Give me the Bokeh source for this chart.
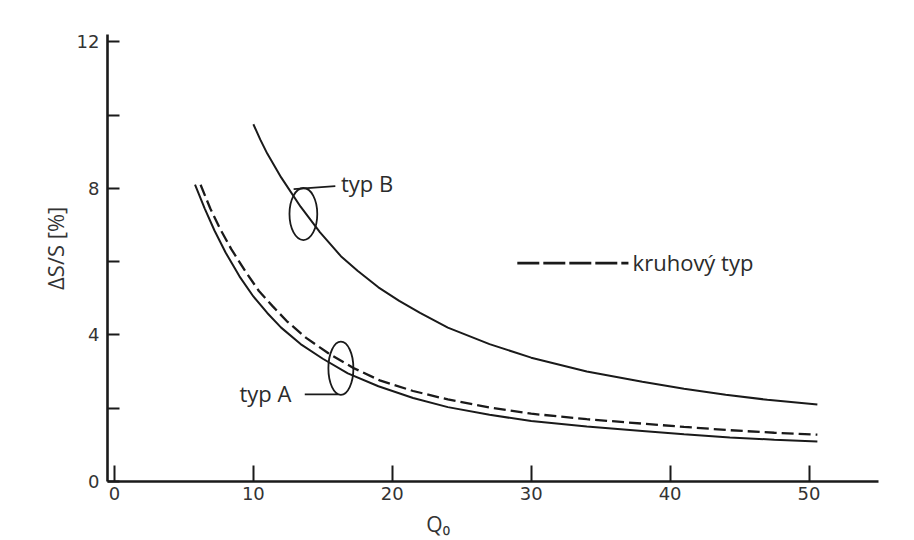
from bokeh.plotting import figure
from bokeh.models import FixedTicker, Range1d, Label, LinearAxis
from bokeh.embed import file_html
from bokeh.resources import INLINE
import math

# ---- data ----
typB_x = [10, 10.5, 11, 12, 13.4, 14.8, 16.3, 17.5, 19, 20.5, 22, 24, 27, 30, 34, 38, 41, 44, 47, 50.6]
typB_y = [9.75, 9.33, 8.95, 8.3, 7.5, 6.8, 6.15, 5.75, 5.3, 4.93, 4.6, 4.2, 3.75, 3.38, 3.0, 2.72, 2.53, 2.37, 2.23, 2.1]

typA_x = [5.8, 6.5, 7.2, 8, 9, 10, 11, 12, 13.4, 15, 16.8, 19, 21.5, 24, 27, 30, 34, 38, 41, 44.3, 47.5, 50.6]
typA_y = [8.1, 7.45, 6.85, 6.25, 5.6, 5.05, 4.6, 4.2, 3.75, 3.35, 2.95, 2.6, 2.28, 2.03, 1.82, 1.65, 1.5, 1.38, 1.29, 1.2, 1.14, 1.09]

kruh_x = [6.2, 6.9, 7.6, 8.4, 9.4, 10.4, 11.4, 12.4, 13.8, 15.4, 17.2, 19.1, 21.5, 24, 27, 30, 34, 38, 41, 44.3, 47.5, 50.6]
kruh_y = [8.1, 7.45, 6.9, 6.35, 5.75, 5.2, 4.78, 4.38, 3.92, 3.5, 3.1, 2.76, 2.47, 2.24, 2.02, 1.85, 1.7, 1.58, 1.49, 1.4, 1.33, 1.28]

x_ticks = [0, 10, 20, 30, 40, 50]
y_ticks = [0, 4, 8, 12]
y_minor = [2, 6, 10]

x_title = "Q₀"
y_title = "ΔS/S [%]"

INK = "#1a1a1a"
TXT = "#2b2b2b"
ANN_FONT = "Open Sans"
TICK_FONT = "DejaVu Sans"
ANN_SIZE = "22px"

p = figure(width=914, height=540, output_backend="svg", toolbar_location=None,
           x_range=Range1d(-0.5, 55), y_range=Range1d(0, 12.2),
           min_border_left=107, min_border_right=36, min_border_top=34, min_border_bottom=59)

p.background_fill_color = "white"
p.border_fill_color = "white"
p.outline_line_color = None
p.xgrid.visible = False
p.ygrid.visible = False

# curves
p.line(typB_x, typB_y, line_color=INK, line_width=2)
p.line(typA_x, typA_y, line_color=INK, line_width=2)
p.line(kruh_x, kruh_y, line_color=INK, line_width=2.3, line_dash="12 5")

# legend sample for dashed curve
p.line([29.0, 37.0], [5.96, 5.96], line_color=INK, line_width=2.6, line_dash="22 4")
p.add_layout(Label(x=37.3, y=6.0, text="kruhový typ", text_font=ANN_FONT,
                   text_font_size=ANN_SIZE, text_color=TXT, text_baseline="middle",
                   text_align="left"))

# typ B annotation: loop + leader
p.ellipse(x=[13.6], y=[7.3], width=[2.0], height=[1.42], fill_alpha=0,
          line_color=INK, line_width=1.8)
p.line([12.9, 15.9], [7.98, 8.06], line_color=INK, line_width=1.8)
p.add_layout(Label(x=16.3, y=8.16, text="typ B", text_font=ANN_FONT,
                   text_font_size=ANN_SIZE, text_color=TXT, text_baseline="middle",
                   text_align="left"))

# typ A annotation: loop + leader
p.ellipse(x=[16.3], y=[3.09], width=[1.8], height=[1.45], fill_alpha=0,
          line_color=INK, line_width=1.8)
p.line([13.7, 16.1], [2.38, 2.38], line_color=INK, line_width=1.8)
p.add_layout(Label(x=9.0, y=2.42, text="typ A", text_font=ANN_FONT,
                   text_font_size=ANN_SIZE, text_color=TXT, text_baseline="middle",
                   text_align="left"))

# axes
xa = p.xaxis[0]
xa.ticker = FixedTicker(ticks=x_ticks)
xa.axis_line_width = 2.6
xa.axis_line_color = INK
xa.major_tick_in = 16
xa.major_tick_out = 0
xa.major_tick_line_width = 2
xa.major_tick_line_color = INK
xa.minor_tick_line_color = None
xa.major_label_text_font = TICK_FONT
xa.major_label_text_font_size = "18px"
xa.major_label_text_color = "#333333"
xa.major_label_standoff = 5

ya = p.yaxis[0]
ya.ticker = FixedTicker(ticks=y_ticks, minor_ticks=y_minor)
ya.axis_line_width = 2.6
ya.axis_line_color = INK
ya.major_tick_in = 12
ya.major_tick_out = 0
ya.minor_tick_in = 12
ya.minor_tick_out = 0
ya.major_tick_line_width = 2
ya.minor_tick_line_width = 2
ya.major_tick_line_color = INK
ya.minor_tick_line_color = INK
ya.major_label_text_font = TICK_FONT
ya.major_label_text_font_size = "18px"
ya.major_label_text_color = "#333333"
ya.major_label_standoff = 8

# axis titles: placed as single labelled ticks on bare axes so they sit where the reference has them
x_title_pos = 23.3
y_title_pos = 7.5
xt = LinearAxis(ticker=FixedTicker(ticks=[x_title_pos]),
                major_label_overrides={x_title_pos: x_title},
                axis_line_color=None, major_tick_line_color=None, minor_tick_line_color=None,
                major_label_text_font=ANN_FONT, major_label_text_font_size="21px",
                major_label_text_color="#333333", major_label_standoff=1)
p.add_layout(xt, "below")
yt = LinearAxis(ticker=FixedTicker(ticks=[y_title_pos]),
                major_label_overrides={y_title_pos: y_title},
                major_label_orientation=math.pi / 2,
                axis_line_color=None, major_tick_line_color=None, minor_tick_line_color=None,
                major_label_text_font=ANN_FONT, major_label_text_font_size="22px",
                major_label_text_color="#333333", major_label_standoff=12)
p.add_layout(yt, "left")

open("out.html", "w").write(file_html(p, INLINE))
